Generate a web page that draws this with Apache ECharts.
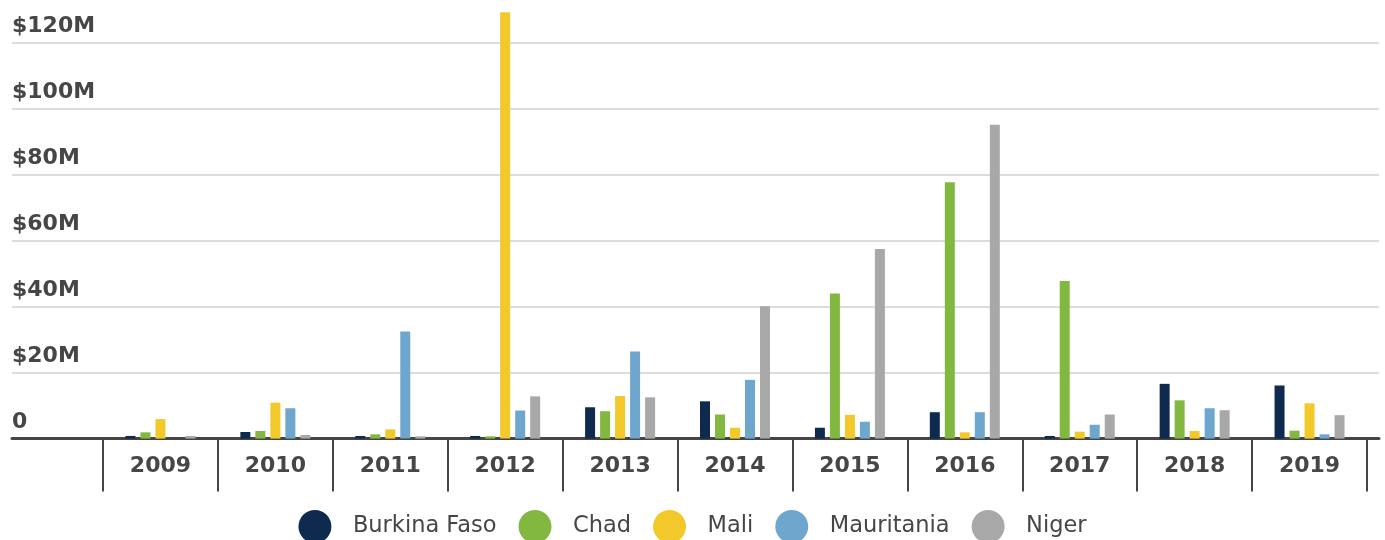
<!DOCTYPE html>
<html>
<head>
<meta charset="utf-8">
<script src="https://cdn.jsdelivr.net/npm/echarts@6/dist/echarts.min.js"></script>
<style>
html,body{margin:0;padding:0;background:#fff;}
#chart{width:1385px;height:540px;}
</style>
</head>
<body>
<div id="chart"></div>
<script>
// years on the x axis
var years = ['2009','2010','2011','2012','2013','2014','2015','2016','2017','2018','2019'];
// values in millions of dollars
var burkinaFaso = [0.8, 2.0, 0.8, 0.8, 9.5, 11.3, 3.3, 8.0, 0.8, 16.6, 16.1];
var chad        = [1.9, 2.3, 1.3, 0.7, 8.3, 7.3, 44.0, 77.7, 47.8, 11.6, 2.4];
var mali        = [5.9, 10.9, 2.8, 129.2, 12.9, 3.3, 7.2, 1.9, 2.1, 2.3, 10.7];
var mauritania  = [0, 9.2, 32.5, 8.5, 26.4, 17.8, 5.1, 8.0, 4.2, 9.2, 1.3];
var niger       = [0.8, 1.1, 0.7, 12.8, 12.5, 40.1, 57.5, 95.1, 7.3, 8.6, 7.1];

var seriesNames = ['Burkina Faso','Chad','Mali','Mauritania','Niger'];
var seriesData = [burkinaFaso, chad, mali, mauritania, niger];
var colors = ['#0e2a4e','#82b740','#f2c82b','#6ea6cd','#a8a8a8'];

var txt = '#464646';

var myChart = echarts.init(document.getElementById('chart'));

var series = seriesNames.map(function(name, i){
	return {
		name: name,
		type: 'bar',
		xAxisIndex: 1,
		yAxisIndex: 1,
		barWidth: 10,
		barGap: '50%',
		clip: false,
		itemStyle: {color: colors[i]},
		data: seriesData[i]
	};
});

var option = {
	animation: false,
	color: colors,
	grid: [
		// gridlines + y labels
		{left: 12, right: 6, top: 42.7, bottom: 101.4},
		// bars
		{left: 103, right: 18, top: 42.7, bottom: 101.4}
	],
	legend: {
		data: seriesNames,
		left: 'center',
		top: 505,
		icon: 'circle',
		itemWidth: 66,
		itemHeight: 33,
		itemGap: 22,
		textStyle: {fontFamily: 'DejaVu Sans', fontSize: 22.5, color: txt}
	},
	xAxis: [
		{
			type: 'category', gridIndex: 0, data: [''],
			axisLine: {show: true, lineStyle: {color: '#454545', width: 3}},
			axisTick: {show: false}, axisLabel: {show: false}, splitLine: {show: false}
		},
		{
			type: 'category', gridIndex: 1, data: years,
			axisLine: {show: false},
			axisTick: {show: true, length: 53, lineStyle: {color: '#454545', width: 2}},
			axisLabel: {margin: 17, fontFamily: 'DejaVu Sans', fontWeight: 'bold', fontSize: 22, color: txt}
		}
	],
	yAxis: [
		{
			type: 'value', gridIndex: 0, min: 0, max: 120, interval: 20,
			axisLine: {show: false}, axisTick: {show: false},
			splitLine: {lineStyle: {color: '#dcdcdc', width: 2}},
			axisLabel: {
				inside: true, margin: 0, align: 'left', verticalAlign: 'bottom',
				padding: [0, 0, 5, 0],
				fontFamily: 'DejaVu Sans', fontWeight: 'bold', fontSize: 22, color: txt,
				formatter: function(v){ return v === 0 ? '0' : '$' + v + 'M'; }
			}
		},
		{
			type: 'value', gridIndex: 1, min: 0, max: 120, interval: 20, show: false
		}
	],
	series: series
};
myChart.setOption(option);
</script>
</body>
</html>
